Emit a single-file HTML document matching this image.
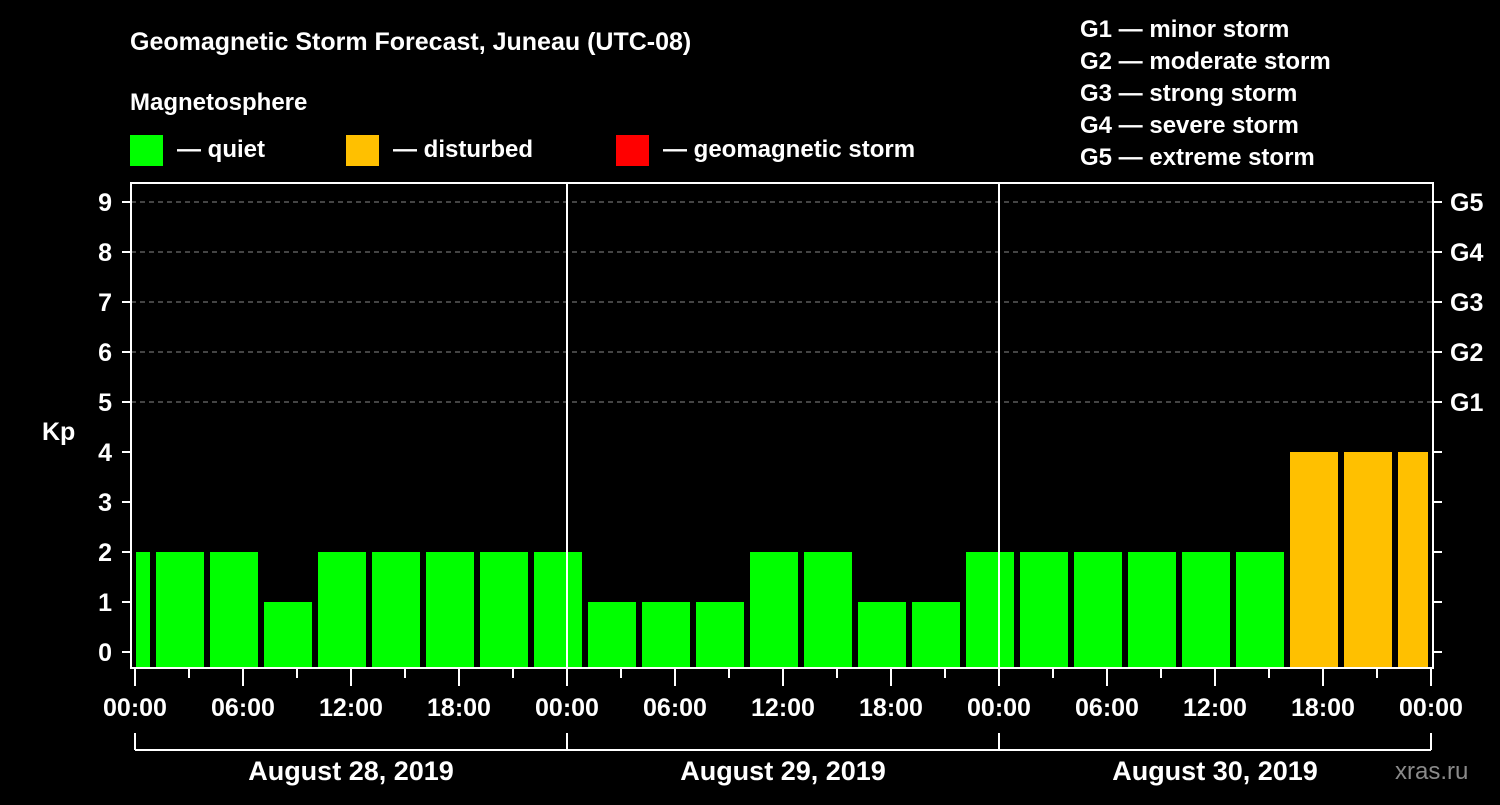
<!DOCTYPE html>
<html><head><meta charset="utf-8"><style>
body{margin:0;background:#000;width:1500px;height:800px;overflow:hidden}
svg text{font-family:"Liberation Sans",Arial,sans-serif;font-weight:bold;fill:#fff}
</style></head><body>
<svg id="c" width="1500" height="800" xmlns="http://www.w3.org/2000/svg">
<text x="130" y="50" font-size="25">Geomagnetic Storm Forecast, Juneau (UTC-08)</text>
<text x="130" y="110" font-size="24">Magnetosphere</text>
<g><rect x="130" y="135" width="33" height="31" fill="#00ff00"/><text x="177" y="157" font-size="24">— quiet</text></g>
<g><rect x="346" y="135" width="33" height="31" fill="#ffc000"/><text x="393" y="157" font-size="24">— disturbed</text></g>
<g><rect x="616" y="135" width="33" height="31" fill="#ff0000"/><text x="663" y="157" font-size="24">— geomagnetic storm</text></g>
<g font-size="24">
<text x="1080" y="37">G1 — minor storm</text><text x="1080" y="69">G2 — moderate storm</text><text x="1080" y="101">G3 — strong storm</text><text x="1080" y="133">G4 — severe storm</text><text x="1080" y="165">G5 — extreme storm</text></g>
<text x="42" y="440" font-size="25">Kp</text>
<text x="1395" y="779" font-size="24" fill="#888" style="fill:#8a8a8a;font-weight:normal">xras.ru</text>
<g id="plot"></g>
</svg>
<script>
const values=[2,2,2,1,2,2,2,2,2,1,1,1,2,2,1,1,2,2,2,2,2,2,4,4,4];
const startHour=-2;
const yTicks=[0,1,2,3,4,5,6,7,8,9];
const gLabels=["G1","G2","G3","G4","G5"];
const gLevels=[5,6,7,8,9];
const xTickLabels=["00:00","06:00","12:00","18:00","00:00","06:00","12:00","18:00","00:00","06:00","12:00","18:00","00:00"];
const dayLabels=["August 28, 2019","August 29, 2019","August 30, 2019"];
const NS="http://www.w3.org/2000/svg";
const x0=135,pxH=18,hMax=72;
const X=h=>x0+h*pxH;
const Y=v=>652-v*50;
const L=131,R=1433,T=183,B=668;
const g=document.getElementById('plot');
function mk(t,a,p){const e=document.createElementNS(NS,t);for(const k in a)e.setAttribute(k,a[k]);(p||g).appendChild(e);return e;}
// grid
yTicks.forEach(v=>{
 if(v>=5){const l=mk('line',{x1:L,x2:R,y1:Y(v),y2:Y(v),stroke:'#888','stroke-dasharray':'5,4','stroke-width':1});
 }
 const t=mk('line',{x1:122,x2:L,y1:Y(v),y2:Y(v),stroke:'#fff','stroke-width':2});
 
 const t2=mk('line',{x1:R,x2:1442,y1:Y(v),y2:Y(v),stroke:'#fff','stroke-width':2});
 
 const tx=mk('text',{x:112,y:Y(v)+9,'font-size':25,'text-anchor':'end'});tx.textContent=v;
 
});
gLevels.forEach((v,i)=>{const tx=mk('text',{x:1450,y:Y(v)+9,'font-size':25});tx.textContent=gLabels[i];
 });
// bars
values.forEach((v,i)=>{
 let s=startHour+i*3,e=s+3;
 let xa=Math.max(X(s)+3,X(0)+1),xb=Math.min(X(e)-3,X(hMax)-3);
 const r=mk('rect',{x:xa,y:Y(v),width:xb-xa,height:B-Y(v),fill:v>=5?'#ff0000':(v>=4?'#ffc000':'#00ff00')});
 
});
// day separators
[1,2].forEach(d=>{const l=mk('line',{x1:X(d*24),x2:X(d*24),y1:T,y2:B,stroke:'#fff','stroke-width':2});
 });
// frame
const f=mk('rect',{x:L,y:T,width:R-L,height:B-T,fill:'none',stroke:'#fff','stroke-width':2});

// x ticks
for(let h=0;h<=hMax;h+=3){const major=h%6===0;
 const l=mk('line',{x1:X(h),x2:X(h),y1:B,y2:major?686:678,stroke:'#fff','stroke-width':2});
 }
xTickLabels.forEach((s,i)=>{const t=mk('text',{x:X(i*6),y:716,'font-size':25,'text-anchor':'middle'});t.textContent=s;
 });
// day bracket
const br=mk('line',{x1:X(0),x2:X(hMax),y1:750,y2:750,stroke:'#fff','stroke-width':2});

for(let d=0;d<=3;d++){const l=mk('line',{x1:X(d*24),x2:X(d*24),y1:733,y2:750,stroke:'#fff','stroke-width':2});
 }
dayLabels.forEach((s,i)=>{const t=mk('text',{x:X(i*24+12),y:780,'font-size':27,'text-anchor':'middle'});t.textContent=s;
 });
</script>
</body></html>
